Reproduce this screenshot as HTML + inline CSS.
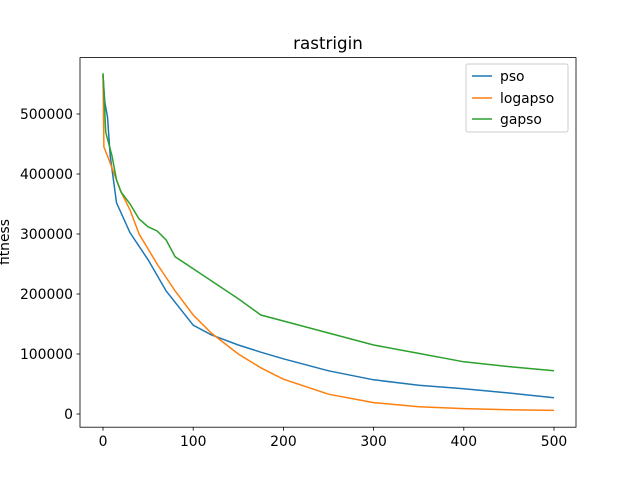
<!DOCTYPE html>
<html><head><meta charset="utf-8"><style>
body{margin:0;background:#fff;}
svg text{font-family:"DejaVu Sans","Liberation Sans",sans-serif;}
</style></head><body>
<svg id="chart" width="640" height="480" xmlns="http://www.w3.org/2000/svg">
<rect width="640" height="480" fill="#fff"/>
<text x="328" y="49" font-size="16.7" text-anchor="middle">rastrigin</text>
<text transform="translate(9,242) rotate(-90)" font-size="13.9" text-anchor="middle">fitness</text>
<g id="plot"></g>
<rect x="80" y="57.6" width="496" height="369.6" fill="none" stroke="#000" stroke-width="0.8"/>
<g id="ticks"></g>
<g>
<rect x="466" y="64" width="102" height="68" fill="#fff" stroke="#ccc" rx="2"/>
<line x1="472" y1="76" x2="492" y2="76" stroke="#1f77b4" stroke-width="1.5"/><text x="500" y="81" font-size="13.9">pso</text>
<line x1="472" y1="98" x2="492" y2="98" stroke="#ff7f0e" stroke-width="1.5"/><text x="500" y="103" font-size="13.9">logapso</text>
<line x1="472" y1="119" x2="492" y2="119" stroke="#2ca02c" stroke-width="1.5"/><text x="500" y="124" font-size="13.9">gapso</text>
</g>
</svg>
<script>
const xTicks=[0,100,200,300,400,500];
const yTicks=[0,100000,200000,300000,400000,500000];
const psoX=[0,2,5,8,15,30,50,70,100,120,150,175,200,250,300,350,400,450,500];
const psoY=[565000,520000,495000,430000,352000,302000,257000,205000,148000,132000,115000,103000,92000,72000,57000,48000,42000,35000,27000];
const logX=[0,1,5,10,20,30,40,50,60,80,100,120,150,175,200,250,300,350,400,450,500];
const logY=[565000,445000,430000,410000,370000,340000,300000,275000,250000,205000,165000,135000,100000,77000,58000,33000,19000,12000,9000,7000,6000];
const gaX=[0,3,10,15,20,30,40,50,60,70,80,100,120,150,175,200,250,300,350,400,450,500];
const gaY=[568000,470000,430000,390000,370000,350000,325000,312000,305000,290000,262000,242000,222000,192000,165000,155000,135000,115000,101000,87000,79000,72000];
const sx=v=>103+v*0.902, sy=v=>414-v/1666.7;
const NS="http://www.w3.org/2000/svg";
const plot=document.getElementById('plot'), tg=document.getElementById('ticks');
function line(xs,ys,c,n){const p=document.createElementNS(NS,'polyline');
p.setAttribute('points',xs.map((x,i)=>sx(x)+','+sy(ys[i])).join(' '));
p.setAttribute('fill','none');p.setAttribute('stroke',c);p.setAttribute('stroke-width','1.5');


plot.appendChild(p);}
line(psoX,psoY,'#1f77b4','series-pso');
line(logX,logY,'#ff7f0e','series-logapso');
line(gaX,gaY,'#2ca02c','series-gapso');
xTicks.forEach(t=>{const x=sx(t);
const l=document.createElementNS(NS,'line');l.setAttribute('x1',x);l.setAttribute('x2',x);l.setAttribute('y1',427.2);l.setAttribute('y2',430.7);l.setAttribute('stroke','#000');l.setAttribute('stroke-width','0.8');


tg.appendChild(l);
const tx=document.createElementNS(NS,'text');tx.setAttribute('x',x);tx.setAttribute('y',446);tx.setAttribute('font-size','13.9');tx.setAttribute('text-anchor','middle');tx.textContent=t;


tg.appendChild(tx);});
yTicks.forEach(t=>{const y=sy(t);
const l=document.createElementNS(NS,'line');l.setAttribute('x1',76.5);l.setAttribute('x2',80);l.setAttribute('y1',y);l.setAttribute('y2',y);l.setAttribute('stroke','#000');l.setAttribute('stroke-width','0.8');


tg.appendChild(l);
const tx=document.createElementNS(NS,'text');tx.setAttribute('x',73);tx.setAttribute('y',y+5);tx.setAttribute('font-size','13.9');tx.setAttribute('text-anchor','end');tx.textContent=t;


tg.appendChild(tx);});
</script>
</body></html>
